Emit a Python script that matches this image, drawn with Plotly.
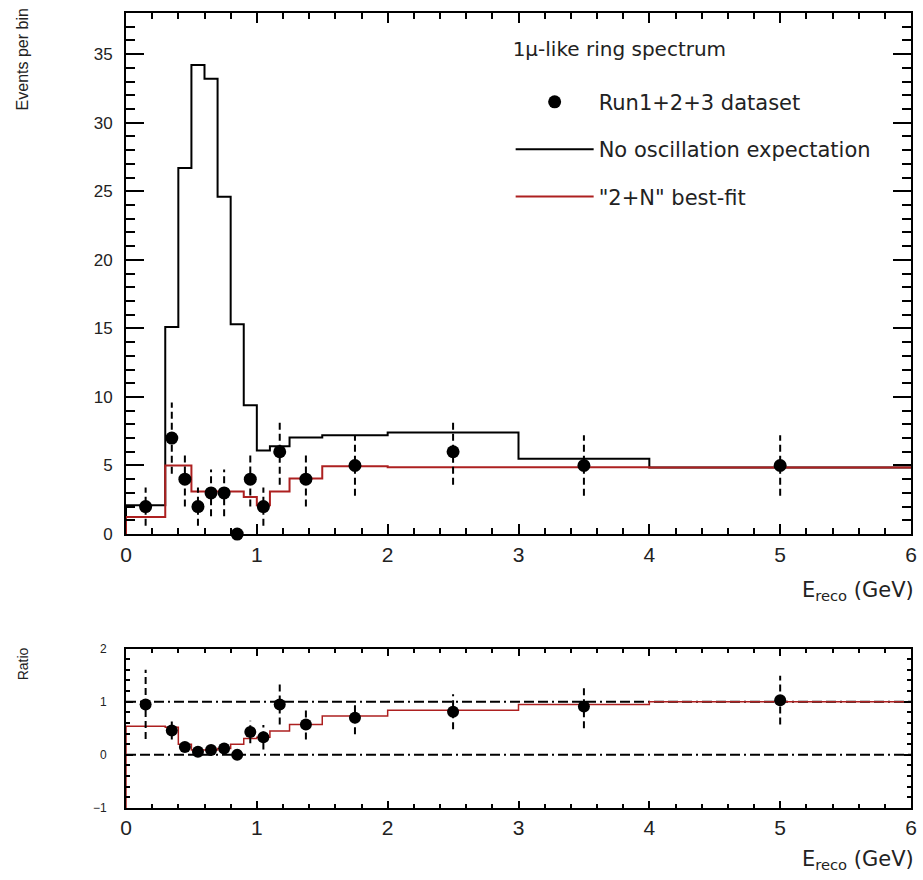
import plotly.graph_objects as go

# ---------------- data ----------------
bin_edges = [0, 0.3, 0.4, 0.5, 0.6, 0.7, 0.8, 0.9, 1.0, 1.1, 1.25, 1.5, 2.0, 3.0, 4.0, 6.0]
bin_centers = [0.15, 0.35, 0.45, 0.55, 0.65, 0.75, 0.85, 0.95, 1.05, 1.175, 1.375, 1.75, 2.5, 3.5, 5.0]
data_events = [2, 7, 4, 2, 3, 3, 0, 4, 2, 6, 4, 5, 6, 5, 5]
data_err = [1.4, 2.6, 2.0, 1.4, 1.7, 1.7, 0, 2.0, 1.4, 2.4, 2.0, 2.2, 2.4, 2.2, 2.2]
no_osc = [2.1, 15.1, 26.7, 34.2, 33.2, 24.6, 15.3, 9.4, 6.1, 6.4, 7.05, 7.2, 7.4, 5.5, 4.85]
best_fit = [1.25, 5.0, 5.0, 3.1, 3.1, 3.1, 3.1, 2.7, 2.1, 3.1, 4.05, 4.95, 4.88, 4.88, 4.85]
ratio_data = [0.95, 0.46, 0.15, 0.06, 0.09, 0.12, 0.0, 0.43, 0.33, 0.95, 0.57, 0.70, 0.81, 0.91, 1.03]
ratio_err = [0.65, 0.17, 0.075, 0.04, 0.05, 0.07, 0, 0.21, 0.23, 0.38, 0.28, 0.31, 0.33, 0.41, 0.46]
ratio_fit = [0.54, 0.52, 0.2, 0.09, 0.09, 0.12, 0.2, 0.31, 0.33, 0.45, 0.57, 0.73, 0.84, 0.95, 1.0]
ratio_ref_levels = [0, 1]

legend_title = "1\u03bc-like ring spectrum"
name_data = "Run1+2+3 dataset"
name_noosc = "No oscillation expectation"
name_fit = "\"2+N\" best-fit"

TXT = "#222222"
RED = "#ad2020"
FONT = "Liberation Sans, Arial, sans-serif"
WFONT = "DejaVu Sans, Liberation Sans, sans-serif"


def step_xy(edges, vals, base):
    x = [edges[0]] + list(edges[:-1]) + [edges[-1]]
    y = [base] + list(vals) + [vals[-1]]
    return x, y


def err_xy(xc, yv, ev):
    xs, ys = [], []
    for c, v, e in zip(xc, yv, ev):
        if e > 0:
            xs += [c, c, None]
            ys += [v - e, v + e, None]
    return xs, ys


fig = go.Figure()

# ---------- top panel ----------
x, y = step_xy(bin_edges, no_osc, 0)
fig.add_trace(go.Scatter(x=x, y=y, mode="lines", line=dict(shape="hv", color="black", width=2),
                         name=name_noosc, legendgroup="b", legendrank=2, xaxis="x", yaxis="y"))
x, y = step_xy(bin_edges, best_fit, 0)
fig.add_trace(go.Scatter(x=x, y=y, mode="lines", line=dict(shape="hv", color=RED, width=2),
                         name=name_fit, legendgroup="c", legendrank=3, xaxis="x", yaxis="y"))
ex, ey = err_xy(bin_centers, data_events, data_err)
fig.add_trace(go.Scatter(x=ex, y=ey, mode="lines", line=dict(color="black", width=2, dash="7px,4px"),
                         showlegend=False, hoverinfo="skip", xaxis="x", yaxis="y"))
fig.add_trace(go.Scatter(x=bin_centers, y=data_events, mode="markers",
                         marker=dict(color="black", size=13, symbol="circle"), cliponaxis=False,
                         name=name_data, legendgroup="a", legendrank=1, xaxis="x", yaxis="y"))

# ---------- ratio panel ----------
for lv in ratio_ref_levels:
    fig.add_trace(go.Scatter(x=[bin_edges[0], bin_edges[-1]], y=[lv, lv], mode="lines",
                             line=dict(color="black", width=2, dash="10px,4px,10px,4px,10px,4px,2px,4px"),
                             showlegend=False, hoverinfo="skip", xaxis="x2", yaxis="y2"))
x, y = step_xy(bin_edges, ratio_fit, -1)
fig.add_trace(go.Scatter(x=x, y=y, mode="lines", line=dict(shape="hv", color=RED, width=1.5),
                         showlegend=False, xaxis="x2", yaxis="y2"))
ex, ey = err_xy(bin_centers, ratio_data, ratio_err)
fig.add_trace(go.Scatter(x=ex, y=ey, mode="lines", line=dict(color="black", width=2, dash="7px,4px"),
                         showlegend=False, hoverinfo="skip", xaxis="x2", yaxis="y2"))
fig.add_trace(go.Scatter(x=bin_centers, y=ratio_data, mode="markers",
                         marker=dict(color="black", size=12, symbol="circle"), cliponaxis=False,
                         showlegend=False, xaxis="x2", yaxis="y2"))


def axis_common(**kw):
    d = dict(showline=True, linecolor="black", linewidth=2, mirror="allticks", ticks="inside",
             tickcolor="black", tickwidth=2, showgrid=False, zeroline=False,
             tickfont=dict(family=FONT, color=TXT))
    d.update(kw)
    return d


fig.update_layout(
    width=923, height=880,
    margin=dict(l=126, r=6, t=10, b=72),
    paper_bgcolor="white", plot_bgcolor="white",
    font=dict(family=FONT, color=TXT),
    xaxis=axis_common(domain=[0, 1], range=[0, 6], anchor="y", dtick=1, tick0=0, ticklen=10,
                      tickfont=dict(size=21, family=FONT, color=TXT), ticklabelstandoff=1,
                      minor=dict(ticks="inside", dtick=0.2, ticklen=6, tickcolor="black", tickwidth=2)),
    yaxis=axis_common(domain=[0.3446, 1], range=[0, 38], anchor="x", dtick=5, tick0=0, ticklen=18,
                      tickfont=dict(size=17, family=FONT, color=TXT), ticklabelstandoff=8,
                      minor=dict(ticks="inside", dtick=1, ticklen=9, tickcolor="black", tickwidth=2)),
    xaxis2=axis_common(domain=[0, 1], range=[0, 6], anchor="y2", dtick=1, tick0=0, ticklen=7,
                       tickfont=dict(size=21, family=FONT, color=TXT), ticklabelstandoff=0,
                       minor=dict(ticks="inside", dtick=0.2, ticklen=4, tickcolor="black", tickwidth=2)),
    yaxis2=axis_common(domain=[0, 0.2005], range=[-1, 2], anchor="x2", dtick=1, tick0=0, ticklen=7,
                       tickfont=dict(size=12, family=FONT, color=TXT), ticklabelstandoff=15,
                       minor=dict(ticks="inside", dtick=0.2, ticklen=4, tickcolor="black", tickwidth=2)),
    legend=dict(x=0.49, y=0.979, xanchor="left", yanchor="top", bgcolor="rgba(0,0,0,0)",
                font=dict(size=21, family=WFONT, color=TXT), itemwidth=78, tracegroupgap=17,
                traceorder="grouped",
                title=dict(text=legend_title + "<br> ", font=dict(size=20, family=WFONT, color=TXT))),
    showlegend=True,
    annotations=[
        dict(text="Events per bin", textangle=-90, xref="paper", yref="paper", x=-0.1315, y=1.008,
             xanchor="center", yanchor="top", showarrow=False, font=dict(size=16, family=FONT, color=TXT)),
        dict(text="Ratio", textangle=-90, xref="paper", yref="paper", x=-0.1315, y=0.1817,
             xanchor="center", yanchor="middle", showarrow=False, font=dict(size=14, family=FONT, color=TXT)),
        dict(text="E<sub>reco</sub> (GeV)", xref="paper", yref="paper", x=1.006, y=0.273,
             xanchor="right", yanchor="middle", showarrow=False, font=dict(size=21, family=WFONT, color=TXT)),
        dict(text="E<sub>reco</sub> (GeV)", xref="paper", yref="paper", x=1.006, y=-0.065,
             xanchor="right", yanchor="middle", showarrow=False, font=dict(size=21, family=WFONT, color=TXT)),
    ],
)

fig.write_html("out.html")
